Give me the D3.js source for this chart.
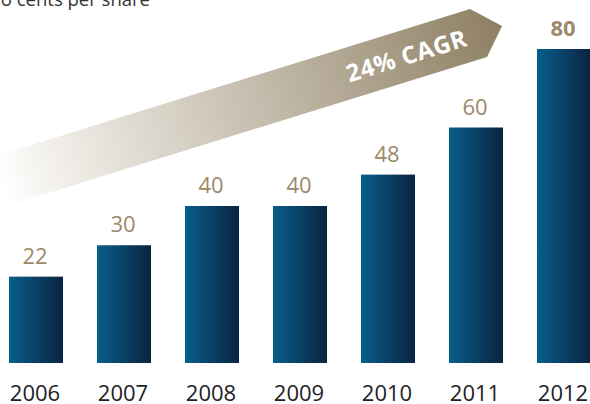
<!DOCTYPE html>
<html><head><meta charset="utf-8">
<script src="https://cdn.jsdelivr.net/npm/d3@7"></script>
<style>
html,body{margin:0;padding:0;background:#fff;}
svg{display:block;}
text{font-family:"Open Sans","Noto Sans",sans-serif;}
</style></head>
<body>
<script>
const years = ["2006","2007","2008","2009","2010","2011","2012"];
const values = [22,30,40,40,48,60,80];
const unitLabel = "Euro cents per share";
const cagrLabel = "24% CAGR";

const W = 590, H = 404;
const svg = d3.select("body").append("svg").attr("width", W).attr("height", H);
const defs = svg.append("defs");

const x = d3.scaleBand().domain(years).range([-8, 608]).paddingInner(0.386).paddingOuter(0.193);
const y = d3.scaleLinear().domain([0, 80]).range([363, 49]);

// bar gradient
const bg = defs.append("linearGradient").attr("id","barGrad").attr("x1","0").attr("x2","1").attr("y1","0").attr("y2","0");
bg.append("stop").attr("offset","0").attr("stop-color","#085f8c");
bg.append("stop").attr("offset","1").attr("stop-color","#0b2240");

// arrow gradient
const ag = defs.append("linearGradient").attr("id","arrGrad").attr("gradientUnits","userSpaceOnUse")
  .attr("x1",0).attr("y1",180).attr("x2",500).attr("y2",30);
ag.append("stop").attr("offset","0").attr("stop-color","#ffffff");
ag.append("stop").attr("offset","0.08").attr("stop-color","#f5f3ef");
ag.append("stop").attr("offset","1").attr("stop-color","#8f8064");

// arrow geometry derived from the scale
const slope = -0.31;
const tipX = x("2011") + x.bandwidth() - 1; // ~504
const tipY = 26;
const topEnd = [tipX - 32, 9];
const botEnd = [tipX - 15, 57];
const leftX = -10;
const arrowPts = [
  [leftX, topEnd[1] + (leftX - topEnd[0]) * slope],
  topEnd,
  [tipX, tipY],
  botEnd,
  [leftX, botEnd[1] + (leftX - botEnd[0]) * slope]
];
svg.append("path").attr("d", d3.line()(arrowPts) + "Z").attr("fill","url(#arrGrad)");

svg.append("text")
  .attr("transform", `translate(409,64) rotate(-17.3)`)
  .attr("text-anchor","middle")
  .attr("font-size",24).attr("font-weight","bold").attr("letter-spacing","0.6")
  .attr("fill","#ffffff").text(cagrLabel);

// bars
svg.selectAll("rect.bar").data(years).join("rect").attr("class","bar")
  .attr("x", d => x(d)).attr("width", x.bandwidth())
  .attr("y", (d,i) => y(values[i])).attr("height", (d,i) => y(0) - y(values[i]))
  .attr("fill","url(#barGrad)");

// value labels
svg.selectAll("text.val").data(years).join("text").attr("class","val")
  .attr("x", d => x(d) + x.bandwidth()/2 - 1)
  .attr("y", (d,i) => y(values[i]) - 13)
  .attr("text-anchor","middle").attr("font-size",22)
  .attr("font-weight", (d,i) => i === years.length-1 ? "bold" : "normal")
  .attr("fill","#9b896a")
  .text((d,i) => values[i]);

// year labels
svg.selectAll("text.yr").data(years).join("text").attr("class","yr")
  .attr("x", d => x(d) + x.bandwidth()/2 - 1)
  .attr("y", 401)
  .attr("text-anchor","middle").attr("font-size",22)
  .attr("fill","#222222")
  .text(d => d);

// unit label (cut at top-left)
svg.append("text").attr("x",150).attr("y",6).attr("text-anchor","end")
  .attr("font-size",18.5).attr("fill","#333333").text(unitLabel);
</script>
</body></html>
